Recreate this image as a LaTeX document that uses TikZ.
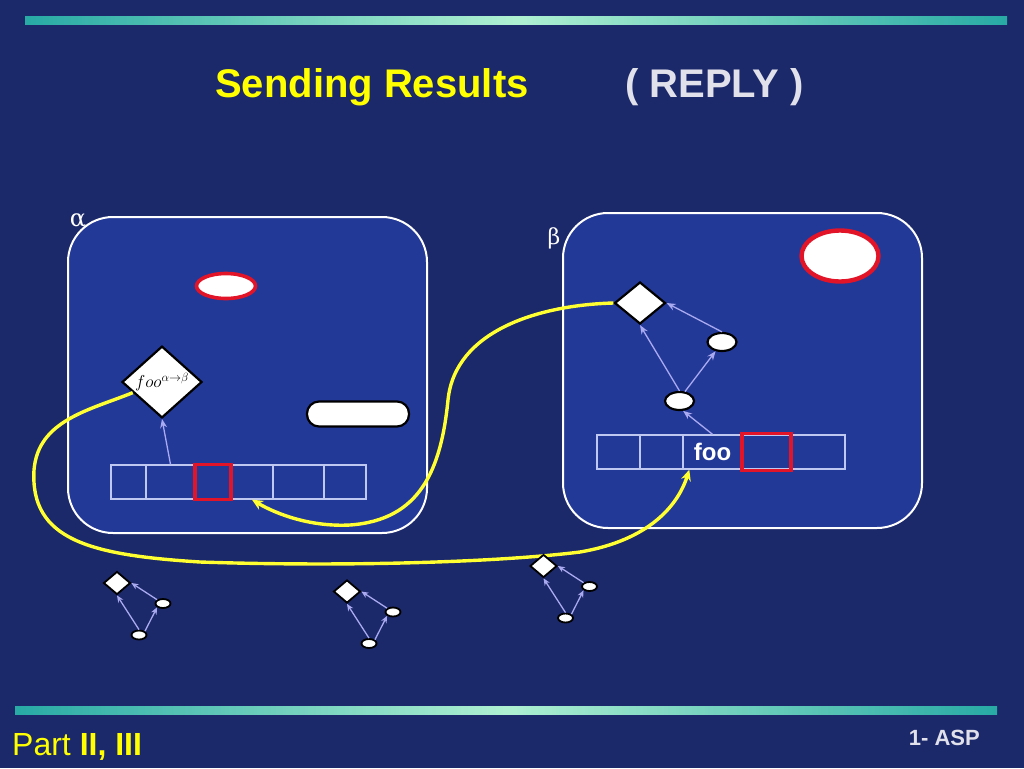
\documentclass[tikz,border=0pt]{standalone}
\usepackage{fontspec}
\setmainfont{Liberation Sans}
\newfontfamily\serifgreek{DejaVu Serif}
\usetikzlibrary{shapes.geometric,arrows.meta}
\definecolor{bgblue}{RGB}{27,40,106}
\definecolor{boxfill}{RGB}{35,57,152}
\definecolor{cellline}{RGB}{190,200,240}
\definecolor{redc}{RGB}{225,20,40}
\definecolor{purpc}{RGB}{170,170,240}
\definecolor{yel}{RGB}{255,255,0}
\definecolor{ycurve}{RGB}{255,255,50}
\definecolor{graytxt}{RGB}{225,225,235}
\definecolor{barend}{RGB}{40,170,165}
\definecolor{barmid}{RGB}{175,240,210}
\begin{document}
\begin{tikzpicture}[x=1pt,y=-1pt,
  box/.style={draw=white, line width=2pt, fill=boxfill, rounded corners=45pt, inner sep=0pt},
  cell/.style={draw=cellline, line width=1.4pt, inner sep=0pt, minimum height=34pt},
  redcell/.style={draw=redc, line width=3.6pt, inner sep=0pt, minimum height=35pt},
  bigdia/.style={diamond, draw=black, fill=white, line width=2.2pt, inner sep=0pt},
  leaf/.style={ellipse, draw=black, fill=white, line width=2.2pt, inner sep=0pt},
  smalldia/.style={diamond, draw=black, fill=white, line width=1.8pt, inner sep=0pt, minimum width=27pt, minimum height=23pt},
  smallleaf/.style={ellipse, draw=black, fill=white, line width=1.8pt, inner sep=0pt, minimum width=15pt, minimum height=9pt},
  redell/.style={ellipse, draw=redc, fill=white, inner sep=0pt},
  pill/.style={draw=black, fill=white, line width=2.2pt, rounded corners=12pt, inner sep=0pt},
  parrow/.style={draw=purpc, line width=1.3pt, -{Stealth[length=9pt,width=7pt]}},
  sparrow/.style={draw=purpc, line width=1.3pt, -{Stealth[length=7pt,width=6pt]}},
  yarrow/.style={draw=ycurve, line width=3.4pt, -{Stealth[length=11pt,width=10pt]}},
]
\fill[bgblue] (0,0) rectangle (1024,768);
\useasboundingbox (0,0) rectangle (1024,768);

% bars
\shade[left color=barend, right color=barend, middle color=barmid] (25,17) rectangle (1007,25);
\shade[left color=barend, right color=barend, middle color=barmid] (15,706) rectangle (997,714);

% title
\node[anchor=base west, text=yel, font=\fontsize{40}{48}\selectfont\bfseries, inner sep=0pt] (title) at (215,97) {Sending Results};
\node[anchor=base west, text=graytxt, font=\fontsize{40}{48}\selectfont\bfseries, inner sep=0pt] (reply) at (625,97) {( REPLY )};

% boxes
\node[box, minimum width=359pt, minimum height=316pt] (alphabox) at (247.5,375) {};
\node[box, minimum width=359pt, minimum height=315pt] (betabox) at (742.5,370.5) {};
\node[text=white, font=\fontsize{24}{28}\selectfont\serifgreek, anchor=base, inner sep=0pt] (alab) at (78,226) {α};
\node[text=white, font=\fontsize{22}{26}\selectfont\serifgreek, inner sep=0pt] (blab) at (554,238) {β};

% alpha contents
\node[redell, line width=3.6pt, minimum width=59pt, minimum height=25pt] (aRedEll) at (226,286) {};
\node[pill, minimum width=102pt, minimum height=25pt] (aPill) at (358,414) {};
\node[bigdia, minimum width=80pt, minimum height=66pt, font=\fontsize{17}{17}\selectfont] (aD) at (162,382) {$foo^{\alpha\to\beta}$};
\node[cell, minimum width=35pt] (a1) at (128.5,482) {};
\node[cell, minimum width=49pt] (a2) at (170.5,482) {};
\node[cell, minimum width=36pt] (a3) at (213,482) {};
\node[cell, minimum width=42pt] (a4) at (252,482) {};
\node[cell, minimum width=51pt] (a5) at (298.5,482) {};
\node[cell, minimum width=42pt] (a6) at (345,482) {};
\node[redcell, minimum width=36pt] (aRed) at (213,482) {};
\draw[parrow] (a2.north) -- (aD.south);

% beta contents
\node[redell, line width=4.4pt, minimum width=77pt, minimum height=51pt] (bRedEll) at (840,256) {};
\node[bigdia, minimum width=51pt, minimum height=42pt] (bD) at (640,303) {};
\node[leaf, minimum width=29pt, minimum height=18pt] (bT) at (722,342) {};
\node[leaf, minimum width=29pt, minimum height=18pt] (bB) at (679.5,401) {};
\node[cell, minimum width=43pt] (b1) at (618.5,452) {};
\node[cell, minimum width=43pt] (b2) at (661.5,452) {};
\node[cell, minimum width=59pt, text=white, font=\fontsize{24}{28}\selectfont\bfseries] (b3) at (712.5,452) {foo};
\node[cell, minimum width=49pt] (b4) at (766.5,452) {};
\node[cell, minimum width=54pt] (b5) at (818,452) {};
\node[redcell, minimum width=49pt, minimum height=37pt] (bRed) at (766.5,452) {};
\draw[parrow] (bB.north) -- (bD.south);
\draw[parrow] (bB.60) -- (bT.235);
\draw[parrow] (bT.north) -- (bD.east);
\draw[parrow] (b3.north) -- (bB.-70);

% yellow curves
\draw[yarrow] (bD.west) .. controls (540,305) and (455,330) .. (448,400)
  .. controls (441,470) and (420,520) .. (350,525)
  .. controls (312,527) and (278,515) .. (a4.south);
\draw[yarrow] (aD.200) .. controls (90,410) and (38,420) .. (34,470)
  .. controls (30,540) and (90,555) .. (200,562)
  .. controls (350,567) and (500,562) .. (580,552)
  .. controls (650,540) and (678,505) .. ([xshift=7pt]b3.south west);

% small trees
\foreach \n/\x/\y in {1/117/583, 2/347/591.5, 3/543.5/566} {
  \node[smalldia] (s\n-d) at (\x,\y) {};
  \node[smallleaf] (s\n-r) at (\x+46,\y+20.5) {};
  \node[smallleaf] (s\n-b) at (\x+22,\y+52) {};
  \draw[sparrow] (s\n-b.north) -- (s\n-d.south);
  \draw[sparrow] (s\n-b.north east) -- (s\n-r.south west);
  \draw[sparrow] (s\n-r.north west) -- (s\n-d.east);
}

% footer
\node[anchor=base west, text=yel, font=\fontsize{32}{38}\selectfont, inner sep=0pt] (part) at (12,755) {Part \textbf{II, III}};
\node[anchor=base east, text=graytxt, font=\fontsize{22}{26}\selectfont\bfseries, inner sep=0pt] (asp) at (980,745) {1- ASP};
\end{tikzpicture}
\end{document}
